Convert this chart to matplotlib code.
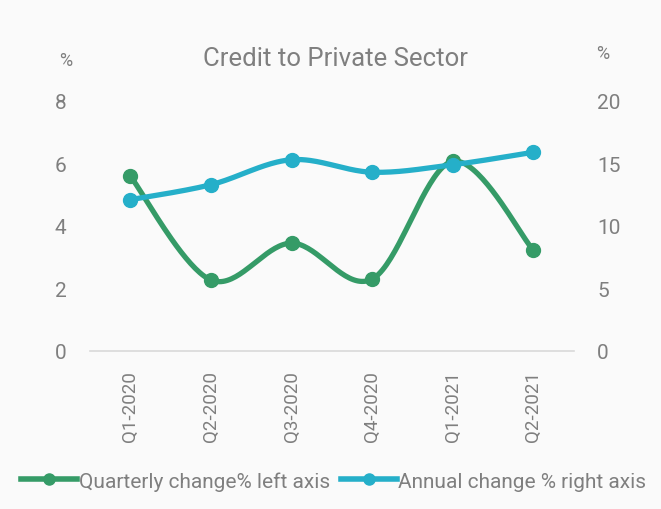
import matplotlib
matplotlib.use('Agg')
import matplotlib.pyplot as plt
from matplotlib.lines import Line2D
import numpy as np

quarters = ['Q1-2020', 'Q2-2020', 'Q3-2020', 'Q4-2020', 'Q1-2021', 'Q2-2021']
quarterly_change = [5.6, 2.27, 3.45, 2.3, 6.07, 3.22]
annual_change = [12.1, 13.3, 15.3, 14.3, 14.9, 15.9]

green = '#359B67'
blue = '#25AFC9'
txt = '#7F7F7F'
bg = '#FAFAFA'

plt.rcParams['font.family'] = ['Roboto', 'DejaVu Sans']


def smooth(y, n=40):
    # catmull-rom smoothing, ends use duplicated points like a spreadsheet
    y = np.asarray(y, dtype=float)
    x = np.arange(len(y), dtype=float)
    px = np.concatenate([[x[0]], x, [x[-1]]])
    py = np.concatenate([[y[0]], y, [y[-1]]])
    t = np.linspace(0, 1, n)

    def cr(a0, a1, a2, a3):
        return 0.5 * ((2 * a1) + (-a0 + a2) * t
                      + (2 * a0 - 5 * a1 + 4 * a2 - a3) * t ** 2
                      + (-a0 + 3 * a1 - 3 * a2 + a3) * t ** 3)
    xs, ys = [], []
    for i in range(1, len(px) - 2):
        xs.append(cr(*px[i - 1:i + 3]))
        ys.append(cr(*py[i - 1:i + 3]))
    return np.concatenate(xs), np.concatenate(ys)


fig = plt.figure(figsize=(6.61, 5.10), dpi=100, facecolor=bg)
ax = fig.add_axes([0.136, 0.310, 0.732, 0.490], facecolor=bg)
ax2 = ax.twinx()

x = np.arange(len(quarters))
sx, sy = smooth(quarterly_change)
ax.plot(sx, sy, color=green, lw=3.8, solid_capstyle='round', zorder=3)
ax.plot(x, quarterly_change, 'o', color=green, ms=10, zorder=3)
sx, sy = smooth(annual_change)
ax2.plot(sx, sy, color=blue, lw=3.8, solid_capstyle='round', zorder=3)
ax2.plot(x, annual_change, 'o', color=blue, ms=10, zorder=3)

ax.set_xlim(-0.5, len(quarters) - 0.5)
ax.set_ylim(0, 8)
ax2.set_ylim(0, 20)
ax.set_yticks([0, 2, 4, 6, 8])
ax2.set_yticks([0, 5, 10, 15, 20])
ax.set_xticks(x)
ax.set_xticklabels(quarters, rotation=90, color=txt, fontsize=13.5)

for a in (ax, ax2):
    for s in a.spines.values():
        s.set_visible(False)
ax.spines['bottom'].set_visible(True)
ax.spines['bottom'].set_color('#D9D9D9')
ax.spines['bottom'].set_linewidth(1.2)
ax.tick_params(axis='x', length=0, pad=14)
ax.tick_params(axis='y', length=0, pad=17, labelcolor=txt, labelsize=15)
ax2.tick_params(axis='y', length=0, pad=17, labelcolor=txt, labelsize=15)

fig.text(0.507, 0.885, 'Credit to Private Sector', ha='center', va='center',
         color=txt, fontsize=18.5)
fig.text(0.100, 0.880, '%', ha='center', va='center', color=txt, fontsize=13)
fig.text(0.912, 0.894, '%', ha='center', va='center', color=txt, fontsize=13)

handles = [
    Line2D([], [], color=green, lw=4, marker='o', ms=8),
    Line2D([], [], color=blue, lw=4, marker='o', ms=8),
]
fig.legend(handles, ['Quarterly change% left axis', 'Annual change % right axis'],
           loc='center', bbox_to_anchor=(0.505, 0.055), ncol=2, frameon=False,
           fontsize=15, labelcolor=txt, handlelength=2.7, handletextpad=0.05,
           columnspacing=0.55, borderpad=0, borderaxespad=0)

fig.savefig('out.png', dpi=100, facecolor=bg)
